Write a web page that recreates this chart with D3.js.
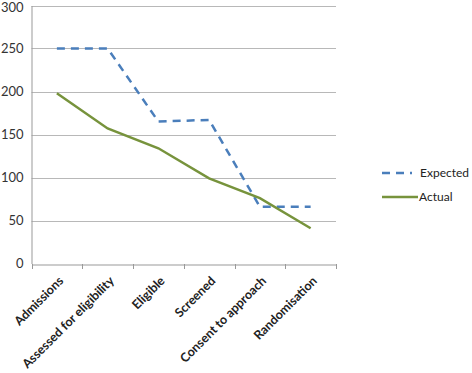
<!DOCTYPE html>
<html>
<head>
<meta charset="utf-8">
<script src="https://cdn.jsdelivr.net/npm/d3@7"></script>
<style>
  body { margin: 0; background: #fff; }
  svg { display: block; font-family: Lato, "Open Sans", sans-serif; }
</style>
</head>
<body>
<div id="chart"></div>
<script>
const categories = ['Admissions', 'Assessed for eligibility', 'Eligible', 'Screened', 'Consent to approach', 'Randomisation'];
const expected = [250, 250, 165, 167, 66, 66];
const actual = [198, 157, 134, 99, 76, 41];
const yTicks = [0, 50, 100, 150, 200, 250, 300];

const width = 472, height = 373;
const plotLeft = 31.5, plotRight = 336, plotTop = 5.5, plotBottom = 263.5;

const svg = d3.select('#chart').append('svg')
    .attr('width', width)
    .attr('height', height);

const x = d3.scaleBand().domain(categories).range([plotLeft, plotRight]);
const y = d3.scaleLinear().domain([0, 300]).range([plotBottom, plotTop]);

// gridlines
svg.append('g')
    .selectAll('line')
    .data(yTicks.filter(d => d > 0))
    .join('line')
    .attr('x1', plotLeft).attr('x2', plotRight)
    .attr('y1', d => Math.round(y(d)) + 0.5).attr('y2', d => Math.round(y(d)) + 0.5)
    .attr('stroke', '#b8b8b8').attr('stroke-width', 1);

// y axis
const yAxis = svg.append('g')
    .attr('transform', `translate(${plotLeft},0)`)
    .call(d3.axisLeft(y).tickValues(yTicks).tickSize(0).tickPadding(8));
yAxis.select('.domain').attr('stroke', '#999');
yAxis.selectAll('text').attr('font-size', 13).attr('fill', '#333').attr('font-family', 'Lato, sans-serif');
yAxis.selectAll('.tick').filter(d => d === 300).select('text').attr('dy', '0.45em');

// x axis
const xAxis = svg.append('g')
    .attr('transform', `translate(0,${Math.round(plotBottom) + 0.5})`)
    .call(d3.axisBottom(x).tickSize(0));
xAxis.select('.domain').attr('stroke', '#999');
xAxis.selectAll('.tick text').remove();
xAxis.selectAll('.tick line').remove();

// tick marks at band edges
svg.append('g')
    .selectAll('line')
    .data(categories.map(c => x(c)).concat([plotRight]))
    .join('line')
    .attr('x1', d => Math.round(d) + 0.5).attr('x2', d => Math.round(d) + 0.5)
    .attr('y1', Math.round(plotBottom)).attr('y2', Math.round(plotBottom) + 5)
    .attr('stroke', '#999');

// rotated category labels
svg.append('g')
    .selectAll('text')
    .data(categories)
    .join('text')
    .attr('transform', d => `translate(${x(d) + x.bandwidth() / 2 + 1},${plotBottom + 12}) rotate(-45)`)
    .attr('text-anchor', 'end')
    .attr('dy', '0.7em')
    .attr('font-size', 12.5)
    .attr('font-weight', 'bold')
    .attr('fill', '#222')
    .text(d => d);

const line = d3.line()
    .x((d, i) => x(categories[i]) + x.bandwidth() / 2)
    .y(d => y(d));

svg.append('path')
    .datum(expected)
    .attr('fill', 'none')
    .attr('stroke', '#4a7ebb')
    .attr('stroke-width', 2.5)
    .attr('stroke-dasharray', '8,6')
    .attr('d', line);

svg.append('path')
    .datum(actual)
    .attr('fill', 'none')
    .attr('stroke', '#77933c')
    .attr('stroke-width', 2.5)
    .attr('d', line);

// legend
const legend = svg.append('g');
legend.append('line')
    .attr('x1', 382).attr('x2', 412).attr('y1', 173).attr('y2', 173)
    .attr('stroke', '#4a7ebb').attr('stroke-width', 2.5).attr('stroke-dasharray', '8,6');
legend.append('text')
    .attr('x', 420).attr('y', 173).attr('dy', '0.35em')
    .attr('font-size', 12).attr('fill', '#222')
    .text('Expected');
legend.append('line')
    .attr('x1', 382).attr('x2', 418).attr('y1', 197).attr('y2', 197)
    .attr('stroke', '#77933c').attr('stroke-width', 2.5);
legend.append('text')
    .attr('x', 419).attr('y', 197).attr('dy', '0.35em')
    .attr('font-size', 12).attr('fill', '#222')
    .text('Actual');
</script>
</body>
</html>
